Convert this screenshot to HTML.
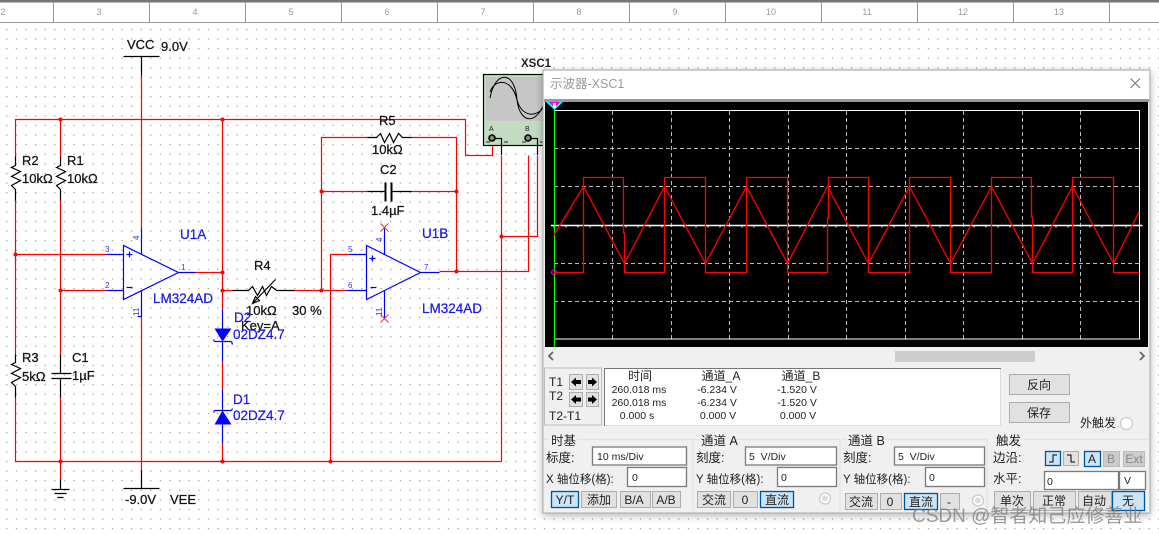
<!DOCTYPE html>
<html><head><meta charset="utf-8"><style>
html,body{margin:0;padding:0;background:#fff}
svg{display:block}
text{font-family:"Liberation Sans","Noto Sans CJK SC",sans-serif;white-space:pre}
.k{fill:#111;font-size:13px;stroke:#111;stroke-width:.25}
.b{fill:#1a1ae6;font-size:13.5px;stroke:#1a1ae6;stroke-width:.25}
.p{fill:#3333dd;font-size:8px}
.u{fill:#222;font-size:12px}
.m{fill:#222;font-size:10.5px}
.c{text-anchor:middle}
.r{fill:none;stroke:#f00;stroke-width:1.2}
.l{fill:none;stroke:#000;stroke-width:1.2}
.bl{fill:none;stroke:#00f;stroke-width:1.2}
.btn{fill:#e1e1e1;stroke:#adadad}
.on{fill:#cce4f7;stroke:#005499;stroke-width:1.3}
.in{fill:#fff;stroke:#7a7a7a;stroke-width:1.3}
.g{fill:none;stroke:#e2e2e2;stroke-width:1.2}
.d{stroke:#bbb;stroke-width:1;stroke-dasharray:4 3;fill:none}
</style></head><body>
<svg width="1159" height="534" viewBox="0 0 1159 534" xmlns="http://www.w3.org/2000/svg">
<defs>
<pattern id="dots" x="6.2" y="28.8" width="9.6" height="9.6" patternUnits="userSpaceOnUse"><rect width="1.2" height="1.2" fill="#999"/></pattern>
<filter id="sh" x="-5%" y="-5%" width="110%" height="110%"><feDropShadow dx="0" dy="2" stdDeviation="4" flood-color="#000" flood-opacity=".3"/></filter>
</defs>
<rect width="1159" height="534" fill="#fff"/>
<rect y="23" width="1159" height="511" fill="url(#dots)"/>

<!-- Ruler -->
<rect width="1159" height="2.5" fill="#777"/>
<line x1="0" y1="22.5" x2="1159" y2="22.5" stroke="#999" stroke-width="1"/>
<g stroke="#999"><path d="M53.500 2V22M149.500 2V22M245.500 2V22M341.500 2V22M437.500 2V22M533.500 2V22M629.500 2V22M725.500 2V22M821.500 2V22M917.500 2V22M1013.500 2V22M1109.500 2V22"/></g>
<g fill="#999" font-size="9" text-anchor="middle"><text x="3" y="15">2</text><text x="99" y="15">3</text><text x="195" y="15">4</text><text x="291" y="15">5</text><text x="387" y="15">6</text><text x="483" y="15">7</text><text x="579" y="15">8</text><text x="675" y="15">9</text><text x="771" y="15">10</text><text x="867" y="15">11</text><text x="963" y="15">12</text><text x="1059" y="15">13</text></g>

<g transform="translate(.5 .5)">
<!-- Red wires -->
<path class="r" d="M15 156V119H465V155H492V145M60 119V156M141 75V228M222 119V309M195 272H222M222 361V389M222 443V461M15 200V354M15 397V461H501M60 200V354M60 397V479M141 316V470M15 254H106M60 290H106M222 290H232M294 290H346M321 290V137H367M411 137H456V271M321 191H367M411 191H456M330 461V254H349M439 271H528V155M501 155V461M501 236H537V155"/>
<g fill="#f00"><circle cx="60" cy="119" r="2"/><circle cx="222" cy="119" r="2"/><circle cx="15" cy="254" r="2"/><circle cx="60" cy="290" r="2"/><circle cx="222" cy="272" r="2"/><circle cx="222" cy="290" r="2"/><circle cx="60" cy="461" r="2"/><circle cx="222" cy="461" r="2"/><circle cx="330" cy="461" r="2"/><circle cx="321" cy="191" r="2"/><circle cx="321" cy="290" r="2"/><circle cx="456" cy="191" r="2"/><circle cx="456" cy="271" r="2"/><circle cx="501" cy="236" r="2"/></g>

<!-- Black parts -->
<path class="l" d="M123 56H159M141 56V75M123 488H159M141 470V488M60 479V489M51 489H69M54 493H66M57 497H63"/>
<path class="l" d="M15 156V165L11 167L20 171L11 176L20 180L11 185L15 189V200"/>
<path class="l" d="M60 156V165L56 167L65 171L56 176L65 180L56 185L60 189V200"/>
<path class="l" d="M15 354V362L11 364L20 368L11 373L20 377L11 382L15 386V397"/>
<path class="l" d="M60 354V373M51 373H71M51 378H71M60 378V397" stroke-width="1.6"/>
<path class="l" d="M232 290H248L252 286L257 295L262 286L266 295L271 286L276 290H294"/>
<path class="l" d="M252 303L275 279M252 303L255 296L259 300Z" fill="#000"/>
<path class="l" d="M367 137H376L380 133L384 142L389 133L393 142L398 133L402 137H411"/>
<path class="l" d="M367 191H385M392 191H411"/>
<path d="M385 182V201M391 182V201" stroke="#000" stroke-width="2" fill="none"/>

<!-- Blue op amps -->
<path class="bl" d="M123 245V299L178 272ZM106 254H123M106 290H123M178 272H195M141 228V254M141 290V316M137 316H141M126 254H132M129 251V257M126 287H132"/>
<path class="bl" d="M366 245V299L420 272ZM349 254H366M346 290H366M420 272H439M384 228V254M384 290V318M369 258H375M372 255V261M370 287H376"/>
<path d="M380 223L388 231M388 223L380 231M380 314L388 322M388 314L380 322" stroke="#e33" stroke-width="1"/>
<!-- diodes -->
<path class="bl" d="M222 309V361M222 389V443" stroke-width="1.4"/>
<path d="M214 328H231L222 341Z M231 424H214L222 410Z" fill="#00f"/>
<path class="bl" d="M214 341H231M214 341L213 339M231 341L232 344M214 410H231M214 410L213 412M231 410L232 408"/>
</g>

<!-- Circuit labels -->
<text class="k" x="127" y="49">VCC</text><text class="k" x="161" y="51">9.0V</text>
<text class="k" x="22" y="165">R2</text><text class="k" x="22" y="183">10kΩ</text>
<text class="k" x="67" y="165">R1</text><text class="k" x="67" y="183">10kΩ</text>
<text class="k" x="22" y="362">R3</text><text class="k" x="22" y="381">5kΩ</text>
<text class="k" x="72" y="362">C1</text><text class="k" x="72" y="380">1µF</text>
<text class="k" x="125" y="504">-9.0V</text><text class="k" x="170" y="504">VEE</text>
<text class="k" x="254" y="270">R4</text><text class="k" x="246" y="315">10kΩ</text><text class="k" x="292" y="315">30 %</text><text class="k" x="241" y="330">Key=A</text>
<text class="k" x="379" y="125">R5</text><text class="k" x="372" y="154">10kΩ</text><text class="k" x="380" y="174">C2</text><text class="k" x="371" y="215">1.4µF</text>
<text class="b" x="180" y="239">U1A</text><text class="b" x="153" y="303">LM324AD</text>
<text class="b" x="422" y="238">U1B</text><text class="b" x="422" y="313">LM324AD</text>
<text class="b" x="234" y="322">D2</text><text class="b" x="233" y="339">02DZ4.7</text><text class="b" x="233" y="404">D1</text><text class="b" x="233" y="420">02DZ4.7</text>
<text class="p" x="105" y="252">3</text><text class="p" x="105" y="288">2</text><text class="p" x="181" y="270">1</text>
<text class="p" transform="translate(139 240) rotate(-90)">4</text><text class="p" transform="translate(139 316) rotate(-90)">11</text>
<text class="p" x="348" y="252">5</text><text class="p" x="348" y="288">6</text><text class="p" x="424" y="270">7</text>
<text class="p" transform="translate(382 242) rotate(-90)">4</text><text class="p" transform="translate(382 316) rotate(-90)">11</text>

<!-- Oscilloscope icon -->
<text x="521" y="67" font-size="11.500" font-weight="bold" fill="#222">XSC1</text>
<rect x="483.500" y="74.500" width="66" height="71" fill="#c2dcc2" stroke="#000" stroke-width="1.2"/>
<rect x="486" y="77" width="62" height="44" fill="#c6c6c6"/>
<path d="M490 98C495 70 515 70 517 100C520 125 538 125 545 100M490 92C495 78 512 78 517 100C522 118 538 118 545 105" fill="none" stroke="#000"/>
<circle cx="492" cy="138" r="3" fill="#888" stroke="#000" stroke-width="1.600"/><circle cx="528" cy="138" r="3" fill="#888" stroke="#000" stroke-width="1.600"/>
<path class="l" d="M495 138.500H501.500V155M531 138.500H537.500V155"/>
<path d="M486 142H490M504 142H508M522 142H526M540 142H544" stroke="#222"/>
<text x="489" y="131" font-size="7" fill="#222">A</text><text x="525" y="131" font-size="7" fill="#222">B</text>

<!-- Window -->
<rect x="543" y="70" width="607" height="443" fill="#f0f0f0" stroke="#aaa" filter="url(#sh)"/>
<rect x="544" y="71" width="605" height="28" fill="#fff"/>
<text x="550" y="88" font-size="12.500" fill="#999">示波器-XSC1</text>
<path d="M1130.500 78.500L1140 88M1140 78.500L1130.500 88" stroke="#777" stroke-width="1.100"/>
<rect x="544" y="99" width="605" height="3" fill="#999"/>

<!-- Screen -->
<rect x="545" y="102" width="603" height="245" fill="#000"/>
<path class="d" d="M612.500 111V339M671.500 111V339M729.500 111V339M788.500 111V339M846.500 111V339M905.500 111V339M963.500 111V339M1022.500 111V339M1080.500 111V339M554 148.500H1139M554 186.500H1139M554 263.500H1139M554 301.500H1139"/>
<rect x="554.500" y="110.500" width="585" height="228.500" fill="none" stroke="#fff" stroke-width="1"/>
<path d="M551 225.500H1142.500" stroke="#fff" stroke-width="1.600"/>
<path d="M554 225V228M566 225V227.500M578 225V227.500M590 225V227.500M602 225V227.500M626 225V227.500M638 225V227.500M650 225V227.500M662 225V227.500M684 225V227.500M696 225V227.500M708 225V227.500M720 225V227.500M742 225V227.500M754 225V227.500M766 225V227.500M778 225V227.500M800 225V227.500M812 225V227.500M824 225V227.500M836 225V227.500M858 225V227.500M870 225V227.500M882 225V227.500M894 225V227.500M916 225V227.500M928 225V227.500M940 225V227.500M952 225V227.500M974 225V227.500M986 225V227.500M998 225V227.500M1010 225V227.500M1032 225V227.500M1044 225V227.500M1056 225V227.500M1068 225V227.500M1090 225V227.500M1102 225V227.500M1114 225V227.500M1126 225V227.500" stroke="#fff" stroke-width="1"/>
<path d="M554.500 102V347" stroke="#0f0" stroke-width="1.200"/>
<path d="M546 102H563L554.500 110Z" fill="#0ff"/><path d="M549 102H560L554.500 108Z" fill="#e0e"/>
<rect x="553" y="103" width="3" height="5" fill="#eee"/>
<circle cx="554" cy="272.500" r="2.500" fill="none" stroke="#e0e"/>
<polyline fill="none" stroke="#f00" stroke-width="1.300" points="554,272.500 583.500,272.500 583.500,177.500 623.500,177.500 623.500,233 624.500,233 624.500,272.500 664.500,272.500 664.500,177.500 705.500,177.500 705.500,272.500 746.500,272.500 746.500,177.500 787.500,177.500 787.500,272.500 827.500,272.500 827.500,218 828.500,218 828.500,177.500 868.500,177.500 868.500,272.500 909.500,272.500 909.500,177.500 950.500,177.500 950.500,272.500 991.500,272.500 991.500,177.500 1031.500,177.500 1031.500,217 1032.500,217 1032.500,272.500 1072.500,272.500 1072.500,177.500 1113.500,177.500 1113.500,272.500 1139,272.500"/>
<polyline fill="none" stroke="#f00" stroke-width="1.300" points="554,235 583.500,186.500 624.500,263.500 664.500,186.500 705.500,263.500 746.500,186.500 787.500,263.500 827.500,186.500 868.500,263.500 909.500,186.500 950.500,263.500 991.500,186.500 1032.500,263.500 1072.500,186.500 1113.500,263.500 1139,212"/>

<!-- Scrollbar -->
<rect x="895" y="351" width="140" height="11" fill="#cdcdcd"/>
<path d="M553 352L549 356L553 360M1140 352L1144 356L1140 360" fill="none" stroke="#666" stroke-width="1.800"/>

<!-- T box -->
<rect x="544.500" y="368" width="57" height="57" fill="#f0f0f0" stroke="#bbb"/>
<text class="u" x="549" y="386" font-size="11.500">T1</text><text class="u" x="549" y="400">T2</text><text class="u" x="549" y="420">T2-T1</text>
<rect class="btn" x="569.500" y="374.500" width="13" height="15"/><rect class="btn" x="586.500" y="374.500" width="12" height="15"/><rect class="btn" x="569.500" y="392.500" width="13" height="14"/><rect class="btn" x="586.500" y="392.500" width="12" height="14"/>
<path d="M571 382L576 377.500V380H581V384H576V386.500ZM597 382L592 377.500V380H588V384H592V386.500ZM571 399.500L576 395V397.500H581V401.500H576V404ZM597 399.500L592 395V397.500H588V401.500H592V404Z" fill="#000"/>
<rect x="604.500" y="368.500" width="396" height="57" fill="#fff" stroke="#ddd"/>
<path d="M604.500 426V368.500H1001" fill="none" stroke="#777"/>
<text class="u c" x="640" y="380">时间</text><text class="u c" x="721" y="380">通道_A</text><text class="u c" x="801" y="380">通道_B</text>
<text class="m c" x="639" y="393">260.018 ms</text><text class="m c" x="717" y="393">-6.234 V</text><text class="m c" x="797" y="393">-1.520 V</text>
<text class="m c" x="639" y="406">260.018 ms</text><text class="m c" x="717" y="406">-6.234 V</text><text class="m c" x="797" y="406">-1.520 V</text>
<text class="m c" x="637" y="419">0.000 s</text><text class="m c" x="718" y="419">0.000 V</text><text class="m c" x="798" y="419">0.000 V</text>

<!-- Right buttons -->
<rect class="btn" x="1009.500" y="374.500" width="60" height="20"/><text class="u c" x="1039" y="389">反向</text>
<rect class="btn" x="1009.500" y="402.500" width="60" height="20"/><text class="u c" x="1039" y="417">保存</text>
<text class="u" x="1080" y="427">外触发</text><circle cx="1126.500" cy="423.500" r="6" fill="#fff" stroke="#ccc" stroke-width="1.300"/>

<!-- Groups -->
<path class="g" d="M544 439.500H549M577 439.500H693M693 439.500V511M693.500 439.500H699M735 439.500H840M840 439.500V511M846 439.500H843M882 439.500H987M987 439.500V511M1024 439.500H1149"/>
<text class="u" x="551" y="445" style="font-size:12.500px">时基</text>
<text class="u" x="701" y="445" style="font-size:12.500px">通道 A</text>
<text class="u" x="848" y="445" style="font-size:12.500px">通道 B</text>
<text class="u" x="996" y="445" style="font-size:12.500px">触发</text>

<text class="u" x="546" y="462" style="font-size:12.500px">标度:</text><rect class="in" x="592.500" y="447" width="94" height="18"/><text class="m" x="597" y="460">10 ms/Div</text>
<text class="u" x="546" y="483" style="font-size:11.500px">X 轴位移(格):</text><rect class="in" x="627.500" y="467.500" width="59" height="19"/><text class="m" x="632" y="481">0</text>
<rect class="on" x="551.500" y="491.500" width="27" height="16"/><text class="u c" x="565" y="504">Y/T</text>
<rect class="btn" x="581.500" y="491.500" width="35" height="16"/><text class="u c" x="599" y="504">添加</text>
<rect class="btn" x="620.500" y="491.500" width="30" height="16"/><text class="u c" x="634" y="504">B/A</text>
<rect class="btn" x="652.500" y="491.500" width="28" height="16"/><text class="u c" x="666" y="504">A/B</text>

<text class="u" x="696" y="462" style="font-size:12.500px">刻度:</text><rect class="in" x="745.500" y="447" width="91" height="18"/><text class="m" x="749" y="460">5  V/Div</text>
<text class="u" x="696" y="483" style="font-size:11.500px">Y 轴位移(格):</text><rect class="in" x="777.500" y="467.500" width="59" height="19"/><text class="m" x="781" y="481">0</text>
<rect class="btn" x="697.500" y="491.500" width="33" height="16"/><text class="u c" x="714" y="504">交流</text>
<rect class="btn" x="733.500" y="491.500" width="24" height="16"/><text class="u c" x="745" y="504">0</text>
<rect class="on" x="760.500" y="491.500" width="33" height="16"/><text class="u c" x="777" y="504">直流</text>
<circle cx="825" cy="498.500" r="5.500" fill="#fff" stroke="#ccc" stroke-width="1.300"/><circle cx="825" cy="498.500" r="3" fill="#ddd"/>

<text class="u" x="843" y="462" style="font-size:12.500px">刻度:</text><rect class="in" x="894.500" y="447" width="90" height="18"/><text class="m" x="898" y="460">5  V/Div</text>
<text class="u" x="843" y="483" style="font-size:11.500px">Y 轴位移(格):</text><rect class="in" x="925.500" y="467.500" width="59" height="19"/><text class="m" x="929" y="481">0</text>
<rect class="btn" x="845.500" y="493.500" width="32" height="16"/><text class="u c" x="861" y="506">交流</text>
<rect class="btn" x="880.500" y="493.500" width="21" height="16"/><text class="u c" x="890" y="506">0</text>
<rect class="on" x="904.500" y="493.500" width="33" height="16"/><text class="u c" x="921" y="506">直流</text>
<rect class="btn" x="940.500" y="493.500" width="19" height="16"/><text class="u c" x="949" y="506">-</text>
<circle cx="978" cy="500.500" r="5.500" fill="#fff" stroke="#ccc" stroke-width="1.300"/><circle cx="978" cy="500.500" r="3" fill="#ddd"/>

<text class="u" x="993" y="462" style="font-size:12.500px">边沿:</text>
<rect class="on" x="1045.500" y="451.500" width="15" height="14"/><path d="M1049 462H1053V455H1057" fill="none" stroke="#000"/>
<rect class="btn" x="1063.500" y="451.500" width="15" height="14"/><path d="M1067 455H1071V462H1075" fill="none" stroke="#000"/>
<rect class="on" x="1084.500" y="451.500" width="16" height="15"/><text class="u c" x="1092" y="463">A</text>
<rect x="1103.500" y="451.500" width="16" height="15" fill="#ccc" stroke="#bbb"/><text class="u c" x="1111" y="463" style="fill:#888">B</text>
<rect x="1123.500" y="451.500" width="21" height="15" fill="#ccc" stroke="#bbb"/><text class="u c" x="1134" y="463" style="fill:#888">Ext</text>
<text class="u" x="993" y="483" style="font-size:12.500px">水平:</text>
<rect class="in" x="1044.500" y="471.500" width="74" height="18"/><text class="m" x="1047" y="485">0</text>
<rect class="in" x="1119.500" y="471.500" width="26" height="18"/><text class="m" x="1124" y="484">V</text>
<rect class="btn" x="994.500" y="491.500" width="36" height="19"/><text class="u c" x="1012" y="505">单次</text>
<rect class="btn" x="1033.500" y="491.500" width="42" height="19"/><text class="u c" x="1054" y="505">正常</text>
<rect class="btn" x="1078.500" y="491.500" width="33" height="19"/><text class="u c" x="1094" y="505">自动</text>
<rect class="on" x="1112.500" y="491.500" width="32" height="19"/><text class="u c" x="1128" y="505">无</text>

<!-- Watermark -->
<text x="912" y="522" font-size="19" fill="#777" fill-opacity=".72">CSDN @智者知己应修善业</text>
</svg>
</body></html>
